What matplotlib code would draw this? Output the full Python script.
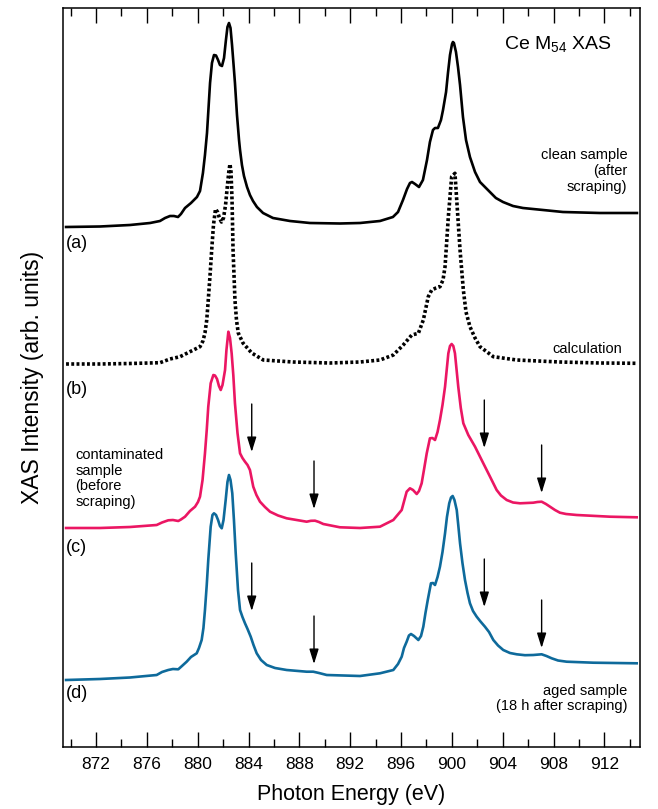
import matplotlib
matplotlib.use("Agg")
import matplotlib.pyplot as plt
from matplotlib.ticker import MultipleLocator

plt.rcParams['font.family'] = ['Liberation Sans', 'DejaVu Sans']
plt.rcParams['mathtext.fontset'] = 'custom'
plt.rcParams['mathtext.rm'] = 'Liberation Sans'

# (a) clean sample, after scraping
energy_a = [869.64, 872.31, 874.67, 876.25, 877.03, 877.43, 877.82, 878.13, 878.45, 878.68,
            879.00, 879.47, 879.94, 880.18, 880.41, 880.57, 880.73, 880.85, 880.97, 881.12,
            881.28, 881.44, 881.60, 881.75, 881.91, 882.07, 882.22, 882.34, 882.46, 882.58,
            882.70, 882.81, 882.93, 883.09, 883.25, 883.33, 883.48, 883.64, 883.88, 884.11,
            884.35, 884.66, 885.14, 885.92, 887.26, 888.83, 891.19, 892.77, 894.34, 895.36,
            895.76, 896.15, 896.47, 896.70, 896.86, 897.10, 897.41, 897.72, 898.04, 898.27,
            898.51, 898.67, 898.90, 899.14, 899.30, 899.54, 899.69, 899.85, 900.01, 900.08,
            900.16, 900.32, 900.48, 900.64, 900.87, 901.11, 901.42, 901.82, 902.21, 902.60,
            902.99, 903.46, 904.02, 904.81, 905.59, 907.17, 908.74, 911.65, 914.56]
intensity_a = [0.00, 0.005, 0.02, 0.04, 0.06, 0.09, 0.11, 0.11, 0.10, 0.13,
               0.19, 0.24, 0.30, 0.36, 0.54, 0.72, 0.94, 1.19, 1.44, 1.64,
               1.72, 1.715, 1.67, 1.62, 1.61, 1.69, 1.87, 2.00, 2.04, 1.99,
               1.82, 1.64, 1.44, 1.12, 0.87, 0.77, 0.62, 0.51, 0.40, 0.32,
               0.26, 0.20, 0.14, 0.09, 0.06, 0.04, 0.035, 0.04, 0.06, 0.10,
               0.15, 0.27, 0.38, 0.44, 0.45, 0.43, 0.40, 0.47, 0.67, 0.85,
               0.97, 0.99, 0.99, 1.07, 1.17, 1.35, 1.54, 1.72, 1.83, 1.85,
               1.84, 1.75, 1.60, 1.42, 1.10, 0.87, 0.70, 0.55, 0.45, 0.40,
               0.35, 0.29, 0.25, 0.21, 0.19, 0.17, 0.15, 0.14, 0.14]

# (b) calculation
energy_b = [869.64, 872.31, 874.67, 877.03, 877.82, 878.61, 879.39, 880.18, 880.41, 880.57,
            880.71, 880.83, 880.97, 881.10, 881.24, 881.40, 881.56, 881.71, 881.87, 882.03,
            882.19, 882.34, 882.46, 882.54, 882.62, 882.70, 882.78, 882.93, 883.05, 883.19,
            883.56, 884.25, 885.16, 887.50, 890.41, 892.77, 894.34, 895.39, 896.17, 896.84,
            897.36, 897.75, 898.14, 898.41, 898.75, 899.06, 899.30, 899.46, 899.72, 899.98,
            900.24, 900.38, 900.64, 900.90, 901.11, 901.42, 901.82, 902.21, 903.26, 905.10,
            908.50, 911.65, 914.54]
intensity_b = [0.00, 0.00, 0.005, 0.013, 0.05, 0.073, 0.123, 0.173, 0.23, 0.31,
               0.44, 0.64, 0.89, 1.14, 1.39, 1.55, 1.52, 1.46, 1.42, 1.46,
               1.59, 1.79, 1.94, 2.00, 1.92, 1.64, 1.14, 0.64, 0.44, 0.31,
               0.21, 0.11, 0.04, 0.02, 0.01, 0.02, 0.04, 0.09, 0.19, 0.29,
               0.307, 0.44, 0.673, 0.74, 0.76, 0.773, 0.84, 0.973, 1.473, 1.873,
               1.907, 1.64, 1.14, 0.74, 0.52, 0.373, 0.26, 0.173, 0.073, 0.04,
               0.02, 0.01, 0.007]

# (c) contaminated sample, before scraping
energy_c = [869.64, 872.31, 874.67, 876.77, 877.19, 877.68, 878.05, 878.47, 878.68, 879.00,
            879.39, 879.79, 880.02, 880.18, 880.38, 880.57, 880.71, 880.83, 881.02, 881.23,
            881.36, 881.52, 881.67, 881.81, 881.95, 882.15, 882.26, 882.41, 882.54, 882.67,
            882.80, 882.93, 883.13, 883.33, 883.52, 883.72, 883.92, 884.11, 884.37, 884.62,
            884.90, 885.29, 885.69, 886.32, 887.00, 888.57, 888.91, 889.23, 889.54, 889.88,
            891.19, 892.77, 894.34, 895.39, 896.05, 896.44, 896.70, 896.94, 897.23, 897.41,
            897.62, 897.80, 898.02, 898.27, 898.47, 898.67, 898.87, 899.06, 899.26, 899.46,
            899.72, 899.85, 899.98, 900.11, 900.24, 900.50, 900.70, 900.90, 901.29, 901.82,
            902.47, 903.00, 903.52, 903.86, 904.31, 904.81, 905.36, 906.40, 906.73, 907.06,
            907.40, 907.72, 908.11, 908.50, 908.98, 909.82, 912.44, 914.54]
intensity_c = [0.00, 0.00, 0.01, 0.03, 0.055, 0.077, 0.08, 0.07, 0.085, 0.113,
               0.17, 0.213, 0.26, 0.313, 0.48, 0.747, 0.98, 1.213, 1.447, 1.53,
               1.525, 1.49, 1.42, 1.38, 1.43, 1.58, 1.78, 1.963, 1.90, 1.747,
               1.53, 1.247, 0.95, 0.747, 0.70, 0.663, 0.63, 0.58, 0.413, 0.33,
               0.263, 0.21, 0.163, 0.125, 0.097, 0.063, 0.072, 0.073, 0.06, 0.04,
               0.007, 0.00, 0.013, 0.08, 0.18, 0.363, 0.397, 0.38, 0.34, 0.37,
               0.447, 0.58, 0.747, 0.897, 0.90, 0.88, 0.96, 1.08, 1.23, 1.413,
               1.747, 1.82, 1.84, 1.82, 1.747, 1.413, 1.20, 1.047, 0.93, 0.813,
               0.647, 0.513, 0.38, 0.325, 0.28, 0.255, 0.247, 0.253, 0.26, 0.263,
               0.24, 0.213, 0.18, 0.153, 0.14, 0.13, 0.113, 0.107]

# (d) aged sample, 18 h after scraping
energy_d = [869.64, 872.31, 874.67, 876.77, 877.19, 877.68, 878.05, 878.47, 878.76, 879.13,
            879.47, 879.92, 880.10, 880.31, 880.45, 880.57, 880.71, 880.83, 881.02, 881.16,
            881.28, 881.44, 881.60, 881.75, 881.89, 882.03, 882.20, 882.34, 882.46, 882.58,
            882.72, 882.85, 882.99, 883.17, 883.33, 883.52, 883.72, 883.92, 884.17, 884.39,
            884.64, 884.98, 885.43, 886.08, 887.00, 888.57, 889.09, 889.54, 890.15, 892.77,
            894.34, 895.39, 895.76, 896.05, 896.23, 896.44, 896.62, 896.78, 897.02, 897.36,
            897.57, 897.75, 897.92, 898.10, 898.35, 898.51, 898.67, 898.87, 899.06, 899.26,
            899.46, 899.61, 899.79, 899.93, 900.06, 900.20, 900.38, 900.50, 900.64, 900.83,
            901.03, 901.23, 901.42, 901.66, 901.95, 902.25, 902.60, 902.92, 903.26, 903.63,
            904.04, 904.57, 905.10, 905.75, 906.40, 907.06, 907.44, 907.85, 908.35, 909.03,
            911.12, 914.54]
intensity_d = [0.00, 0.01, 0.025, 0.05, 0.08, 0.10, 0.11, 0.107, 0.14, 0.183,
               0.23, 0.267, 0.32, 0.40, 0.52, 0.70, 0.95, 1.20, 1.533, 1.65,
               1.667, 1.65, 1.60, 1.54, 1.517, 1.60, 1.80, 1.98, 2.05, 2.00,
               1.867, 1.60, 1.267, 0.90, 0.70, 0.63, 0.567, 0.51, 0.433, 0.35,
               0.267, 0.20, 0.15, 0.12, 0.10, 0.083, 0.083, 0.07, 0.05, 0.04,
               0.067, 0.10, 0.16, 0.233, 0.32, 0.383, 0.445, 0.46, 0.44, 0.40,
               0.44, 0.533, 0.67, 0.80, 0.967, 0.97, 0.95, 1.03, 1.133, 1.28,
               1.467, 1.63, 1.767, 1.825, 1.84, 1.80, 1.70, 1.55, 1.367, 1.17,
               1.00, 0.87, 0.767, 0.69, 0.633, 0.585, 0.533, 0.48, 0.40, 0.345,
               0.30, 0.27, 0.257, 0.248, 0.25, 0.257, 0.24, 0.217, 0.195, 0.183,
               0.173, 0.167]

# vertical offsets of the stacked spectra
offset_a, offset_b, offset_c, offset_d = 5.20, 3.83, 2.19, 0.67

# Ce4+ related features marked with arrows
arrow_energy = [884.25, 889.15, 902.55, 907.06]
arrow_tip_c = [2.95, 2.38, 2.99, 2.54]
arrow_tip_d = [1.36, 0.83, 1.40, 0.99]
arrow_len = 0.48

pink = "#EB1663"
blue = "#0E6A9B"

fig = plt.figure(figsize=(6.58, 8.09), dpi=100)
ax = fig.add_axes([63 / 658, 62 / 809, 577 / 658, 739 / 809])

ax.plot(energy_a, [v + offset_a for v in intensity_a], color="black", lw=1.9,
        solid_joinstyle="round")
ax.plot(energy_b, [v + offset_b for v in intensity_b], color="black", lw=2.6,
        linestyle=(0, (0.8, 0.65)))
ax.plot(energy_c, [v + offset_c for v in intensity_c], color=pink, lw=1.9,
        solid_joinstyle="round")
ax.plot(energy_d, [v + offset_d for v in intensity_d], color=blue, lw=1.9,
        solid_joinstyle="round")

for tips in (arrow_tip_c, arrow_tip_d):
    for e, t in zip(arrow_energy, tips):
        ax.annotate("", xy=(e, t), xytext=(e, t + arrow_len),
                    arrowprops=dict(arrowstyle="-|>,head_length=0.9,head_width=0.28",
                                    lw=1.0, color="black", shrinkA=0, shrinkB=0))

ax.set_xlim(869.4, 914.8)
ax.set_ylim(0, 7.39)
ax.xaxis.set_major_locator(MultipleLocator(4))
ax.xaxis.set_minor_locator(MultipleLocator(2))
ax.set_xticks(range(872, 913, 4))
ax.set_yticks([])
ax.tick_params(axis="x", which="both", direction="in", top=True, width=1.0, labelsize=12.5)
ax.tick_params(axis="x", which="major", length=11, pad=7)
ax.tick_params(axis="x", which="minor", length=5.5)
for s in ax.spines.values():
    s.set_linewidth(1.1)

ax.set_xlabel("Photon Energy (eV)", fontsize=15.5, labelpad=9)
ax.set_ylabel("XAS Intensity (arb. units)", fontsize=16.5, labelpad=14)

ax.text(912.6, 7.02, r"Ce M$_{54}$ XAS", fontsize=14, ha="right", va="center")
ax.text(913.8, 5.76, "clean sample\n(after\nscraping)", fontsize=10.5,
        ha="right", va="center", multialignment="right", linespacing=1.15)
ax.text(913.4, 3.98, "calculation", fontsize=10.5, ha="right", va="center")
ax.text(870.35, 2.685, "contaminated\nsample\n(before\nscraping)", fontsize=10.5,
        ha="left", va="center", multialignment="left", linespacing=1.15)
ax.text(913.8, 0.485, "aged sample\n(18 h after scraping)", fontsize=10.5,
        ha="right", va="center", multialignment="right", linespacing=1.15)

for lab, yy in zip(["(a)", "(b)", "(c)", "(d)"], [5.03, 3.58, 1.99, 0.54]):
    ax.text(869.64, yy, lab, fontsize=13, ha="left", va="center")

fig.savefig("out.png", dpi=100)
